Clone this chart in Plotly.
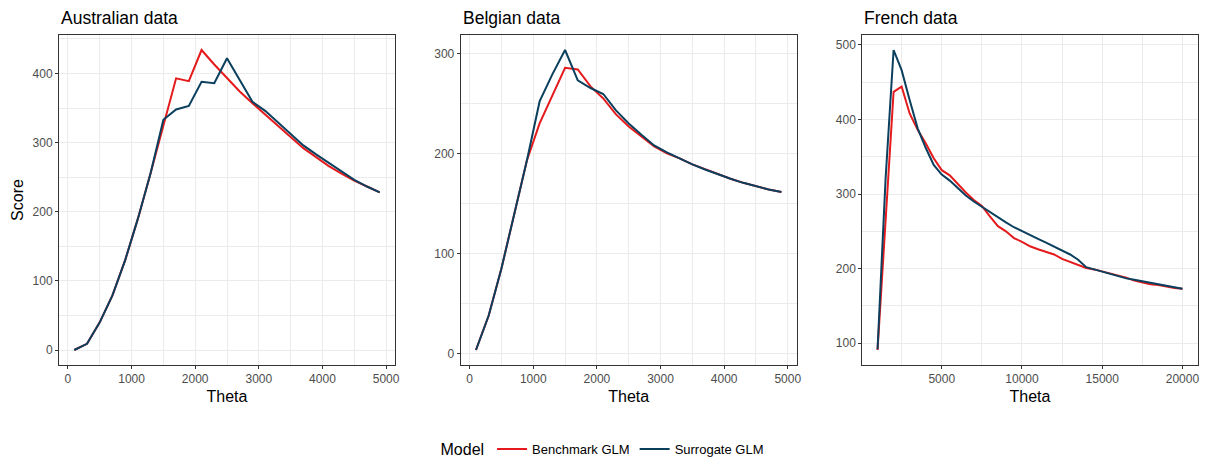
import plotly.graph_objects as go

# ---------------- data ----------------
theta_au = [100, 300, 500, 700, 900, 1100, 1300, 1500, 1700, 1900, 2100, 2300, 2500,
            2700, 2900, 3100, 3300, 3500, 3700, 3900, 4100, 4300, 4500, 4700, 4900]
au_bench = [0, 9, 40, 79, 130, 190, 256, 326, 393, 389, 434, 413, 393,
            374, 357, 341, 324, 308, 292, 279, 266, 255, 245, 236.5, 228]
au_surr = [0, 9, 40, 79, 130, 190, 256, 333, 348, 353, 388, 386, 422,
           391, 359, 346, 329, 312, 296, 283, 271, 259, 246, 236.5, 228]

theta_be = [100, 300, 500, 700, 900, 1100, 1300, 1500, 1700, 1900, 2100, 2300, 2500,
            2700, 2900, 3100, 3300, 3500, 3700, 3900, 4100, 4300, 4500, 4700, 4900]
be_bench = [3.5, 38, 85, 140, 193, 230, 258.7, 285.6, 284, 267, 255, 239, 227,
            217, 207, 200, 195, 189, 184, 179, 174.7, 170.6, 167, 164, 161.5]
be_surr = [3.5, 38, 85, 140, 193, 252, 279, 303.4, 273, 265.4, 259.4, 243, 230,
           218.6, 208, 201, 195, 189, 184, 179, 174.7, 170.6, 167, 164, 161.5]

theta_fr = [1000, 1500, 2000, 2500, 3000, 3500, 4000, 4500, 5000, 5500, 6000, 6500, 7000,
            7500, 8000, 8500, 9000, 9500, 10000, 10500, 11000, 11500, 12000, 12500, 13000,
            13500, 14000, 14500, 15000, 15500, 16000, 16500, 17000, 17500, 18000, 18500,
            19000, 19500, 20000]
fr_bench = [91, 264, 437, 444, 408, 386, 368, 348, 332, 325, 313, 302, 292,
            284, 270, 257, 250, 241, 236, 230, 226, 222, 219, 213, 209,
            205, 201, 199, 196.5, 193, 191, 188, 184, 181, 179, 178,
            175.5, 174, 173]
fr_surr = [92, 320, 493, 466, 426, 388, 362, 339, 326, 318, 308, 298, 290,
           283, 275.5, 268, 262, 255.5, 250, 245, 240, 235, 230, 225, 219,
           212, 202, 199, 196, 192, 189, 187, 185, 183, 181, 179,
           176, 174.5, 173]

panel_titles = ["Australian data", "Belgian data", "French data"]
series_names = ["Benchmark GLM", "Surrogate GLM"]
x_ticks = [[0, 1000, 2000, 3000, 4000, 5000],
           [0, 1000, 2000, 3000, 4000, 5000],
           [5000, 10000, 15000, 20000]]
y_ticks = [[0, 100, 200, 300, 400],
           [0, 100, 200, 300],
           [100, 200, 300, 400, 500]]
x_minor = [500, 500, 2500]
y_minor = [50, 50, 50]

# ---------------- style ----------------
RED = "#E41A1C"
BLUE = "#0B3F5E"
FONT = "Liberation Sans, Arial, sans-serif"
W, H = 1207, 465
x_px = [(59, 395), (460.7, 796.7), (862.3, 1197.7)]
y_px = (35, 365)

panels = [
    (theta_au, au_bench, au_surr),
    (theta_be, be_bench, be_surr),
    (theta_fr, fr_bench, fr_surr),
]


def expand(vals):
    lo, hi = min(vals), max(vals)
    pad = 0.05 * (hi - lo)
    return [lo - pad, hi + pad]


fig = go.Figure()
layout = dict(
    width=W, height=H,
    margin=dict(l=0, r=0, t=0, b=0),
    paper_bgcolor="white", plot_bgcolor="white",
    font=dict(family=FONT, color="black"),
    showlegend=True,
    legend=dict(
        orientation="h", x=0.5, xanchor="center", y=0, yanchor="bottom",
        title=dict(text="Model", font=dict(size=16, color="black"), side="left"),
        font=dict(size=13, color="black"),
        itemwidth=30, tracegroupgap=0,
        bgcolor="rgba(0,0,0,0)",
    ),
    annotations=[],
)

for i, (th, bench, surr) in enumerate(panels):
    n = "" if i == 0 else str(i + 1)
    xa, ya = "x" + n, "y" + n
    for name, vals, col in ((series_names[0], bench, RED), (series_names[1], surr, BLUE)):
        fig.add_trace(go.Scatter(
            x=th, y=vals, mode="lines", name=name,
            line=dict(color=col, width=2),
            xaxis=xa, yaxis=ya,
            legendgroup=name, showlegend=(i == 0),
        ))
    x0, x1 = x_px[i]
    common = dict(
        showline=True, mirror=True, linecolor="#333333", linewidth=1,
        showgrid=True, gridcolor="#EBEBEB", gridwidth=1.1,
        zeroline=False, ticks="outside", ticklen=3, tickwidth=1, tickcolor="#333333",
        tickfont=dict(size=12, color="#4D4D4D", family=FONT),
        automargin=False,
    )
    layout["xaxis" + n] = dict(
        common,
        domain=[x0 / W, x1 / W], anchor=ya,
        range=expand(th), tickmode="array", tickvals=x_ticks[i],
        ticktext=[str(v) for v in x_ticks[i]],
        minor=dict(showgrid=True, gridcolor="#EBEBEB", gridwidth=0.6, dtick=x_minor[i],
                   tick0=0, ticks=""),
        title=dict(text="Theta", font=dict(size=16, color="black"), standoff=5),
    )
    ally = bench + surr
    layout["yaxis" + n] = dict(
        common,
        domain=[1 - y_px[1] / H, 1 - y_px[0] / H], anchor=xa,
        range=expand(ally), tickmode="array", tickvals=y_ticks[i],
        ticktext=[str(v) for v in y_ticks[i]],
        minor=dict(showgrid=True, gridcolor="#EBEBEB", gridwidth=0.6, dtick=y_minor[i],
                   tick0=0, ticks=""),
        title=dict(text="Score" if i == 0 else "", font=dict(size=16, color="black"),
                   standoff=4),
    )
    layout["annotations"].append(dict(
        text=panel_titles[i], xref="paper", yref="paper",
        x=x0 / W, y=1 - 18 / H, xanchor="left", yanchor="middle",
        showarrow=False, font=dict(size=17.5, color="black", family=FONT),
    ))

fig.update_layout(**layout)
fig.write_html("out.html")
